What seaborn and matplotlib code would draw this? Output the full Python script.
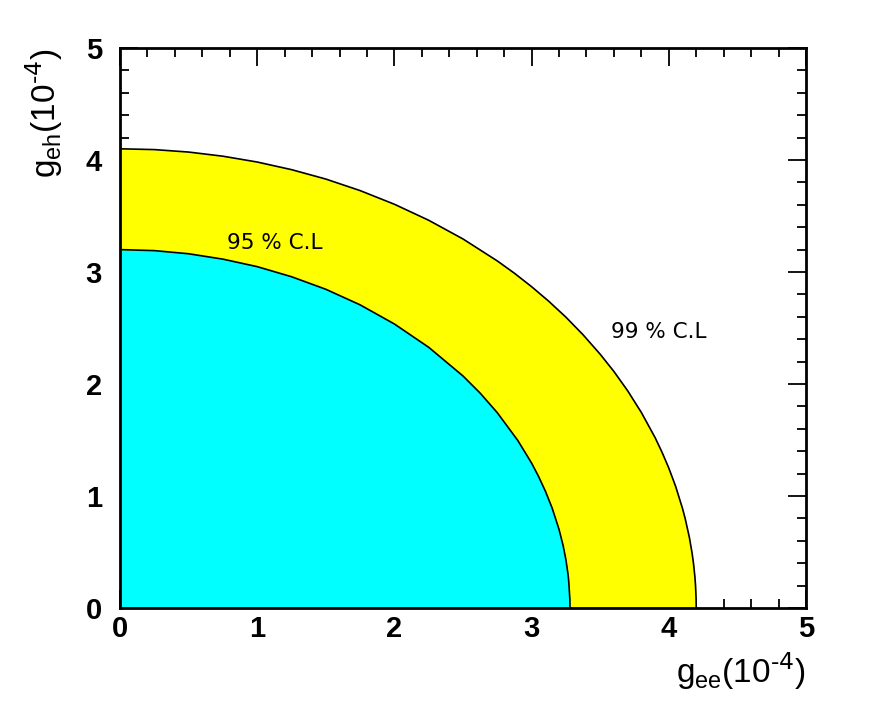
import numpy as np
import pandas as pd
import matplotlib.pyplot as plt
import seaborn as sns

# contour points (units of 1e-4)
x99 = [0.0, 0.25, 0.5, 0.75, 1.0, 1.25, 1.5, 1.75, 2.0, 2.25, 2.5, 2.75, 2.875, 3.0, 3.125,
       3.25, 3.375, 3.5, 3.6, 3.7, 3.8, 3.9, 3.95, 4.0, 4.05, 4.1, 4.12, 4.15, 4.17, 4.18,
       4.19, 4.195, 4.199, 4.2]
y99 = [4.10, 4.093, 4.071, 4.034, 3.982, 3.914, 3.830, 3.727, 3.605, 3.462, 3.295, 3.099, 2.989,
       2.869, 2.739, 2.597, 2.440, 2.266, 2.112, 1.940, 1.746, 1.522, 1.393, 1.250, 1.086,
       0.889, 0.796, 0.631, 0.489, 0.399, 0.283, 0.200, 0.089, 0.0]

x95 = [0.0, 0.25, 0.5, 0.75, 1.0, 1.25, 1.5, 1.75, 2.0, 2.25, 2.5, 2.625, 2.75, 2.9, 3.0,
       3.05, 3.1, 3.15, 3.2, 3.23, 3.25, 3.265, 3.27, 3.279, 3.28]
y95 = [3.20, 3.191, 3.163, 3.115, 3.048, 2.958, 2.846, 2.707, 2.536, 2.328, 2.072, 1.919, 1.744,
       1.495, 1.294, 1.177, 1.045, 0.892, 0.702, 0.557, 0.432, 0.306, 0.250, 0.079, 0.0]

labels = ["95 % C.L", "99 % C.L"]
label_pos = [(1.13, 3.26), (3.93, 2.46)]

sns.set_style("ticks")
plt.rcParams['font.family'] = ['Liberation Sans', 'DejaVu Sans']
plt.rcParams['text.color'] = 'black'
plt.rcParams['axes.labelcolor'] = 'black'
plt.rcParams['xtick.color'] = 'black'
plt.rcParams['ytick.color'] = 'black'

fig = plt.figure(figsize=(8.72, 7.08), dpi=100)
ax = fig.add_axes([0.1376, 0.1412, 0.7867, 0.791])

df99 = pd.DataFrame({"x": x99, "y": y99})
df95 = pd.DataFrame({"x": x95, "y": y95})

ax.fill_between(df99["x"], 0, df99["y"], color="#ffff00", lw=0, zorder=1)
ax.fill_between(df95["x"], 0, df95["y"], color="#00ffff", lw=0, zorder=2)
sns.lineplot(data=df99, x="x", y="y", sort=False, color="black", lw=1.2, ax=ax, zorder=3)
sns.lineplot(data=df95, x="x", y="y", sort=False, color="black", lw=1.2, ax=ax, zorder=3)

for txt, (tx, ty) in zip(labels, label_pos):
    ax.text(tx, ty, txt, ha="center", va="center", fontsize=15.5, family="DejaVu Sans",
            color="black", zorder=4)

ax.set_xlim(0, 5)
ax.set_ylim(0, 5)
ax.set_xticks(np.arange(0, 6, 1))
ax.set_yticks(np.arange(0, 6, 1))
ax.set_xticks(np.arange(0, 5.01, 0.2), minor=True)
ax.set_yticks(np.arange(0, 5.01, 0.2), minor=True)
ax.tick_params(which="both", direction="in", top=True, right=True, width=1.3, zorder=5)
ax.tick_params(which="major", length=13)
ax.tick_params(which="minor", length=6.5)
ax.tick_params(axis="x", which="major", pad=5, labelsize=21)
ax.tick_params(axis="y", which="major", pad=13, labelsize=21)
for lab in ax.get_xticklabels() + ax.get_yticklabels():
    lab.set_fontweight("heavy")
for sp in ax.spines.values():
    sp.set_linewidth(2)
    sp.set_color("black")
    sp.set_zorder(6)

ax.set_xlabel(r"g$_{\mathregular{ee}}$(10$^{\text{-4}}$)", fontsize=24)
ax.set_ylabel(r"g$_{\mathregular{eh}}$(10$^{\text{-4}}$)", fontsize=24)
ax.xaxis.set_label_coords(1.0, -0.075)
ax.xaxis.label.set_ha("right")
ax.yaxis.set_label_coords(-0.08, 1.0)
ax.yaxis.label.set_ha("right")

fig.savefig("out.png", dpi=100)
